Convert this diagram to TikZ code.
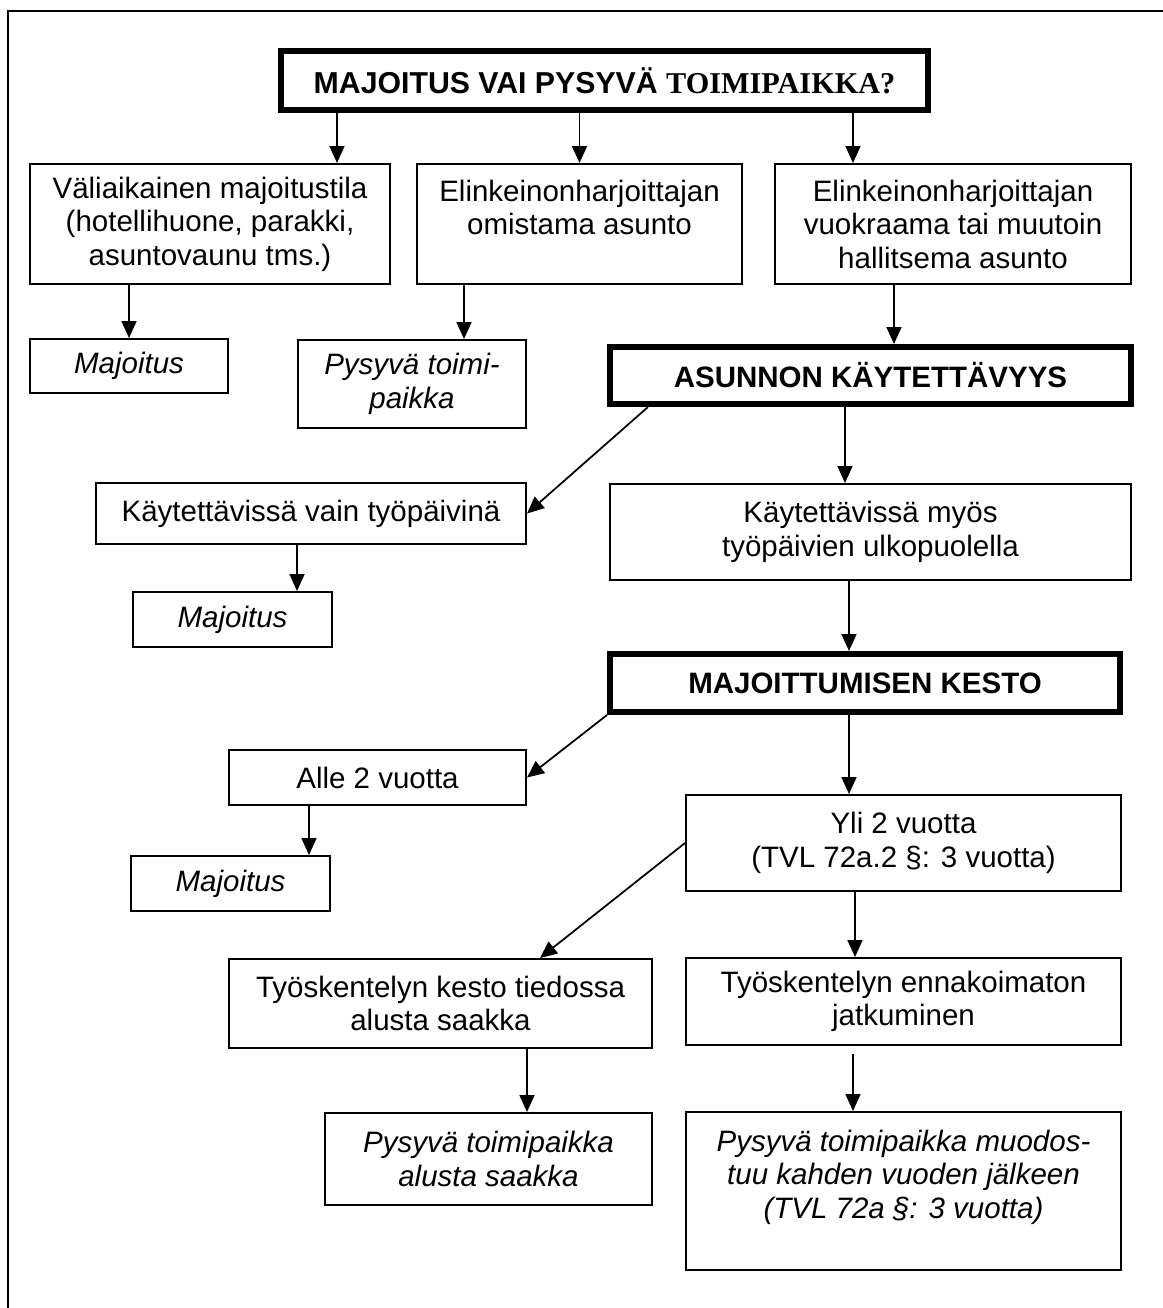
\documentclass[tikz,border=0pt]{standalone}
\usepackage{fontspec}
\setmainfont{Liberation Sans}
\newfontfamily\timesfont{Liberation Serif}
\usepackage{tikz}
\usetikzlibrary{arrows.meta}
\tikzset{
  box/.style={
    draw=black,fill=white,line width=.8pt,
    inner sep=2pt,align=center,
    font=\fontsize{11.8}{13.4}\selectfont
  },
  resultbox/.style={
    box,font=\fontsize{11.8}{13.4}\selectfont\itshape
  },
  headbox/.style={
    box,line width=2.4pt,font=\fontsize{11.8}{13.4}\selectfont\bfseries
  },
  frameline/.style={draw=black,line width=1.1pt},
  arrow/.style={-{Triangle[length=6.8pt,width=6pt]},draw=black,line width=.7pt}
}
\begin{document}
\begin{tikzpicture}[x=0.4pt,y=-0.4pt]
\useasboundingbox (0,0) rectangle (1163,1308);
\draw[frameline] (8,1308) -- (8,11) -- (1163,11);

\node[headbox,font=\fontsize{12.1}{13.8}\selectfont\bfseries,
  minimum width=258.8pt,minimum height=23.6pt] (title) at (604.5,80.5)
{MAJOITUS VAI PYSYVÄ {\timesfont TOIMIPAIKKA?}};

\node[box,minimum width=144pt,minimum height=48pt] (temp) at (210,224)
{Väliaikainen majoitustila\\(hotellihuone, parakki,\\asuntovaunu tms.)};
\node[box,minimum width=130pt,minimum height=48pt] (owned) at (579.5,224)
{Elinkeinonharjoittajan\\omistama asunto\\\mbox{}};
\node[box,minimum width=142.4pt,minimum height=48pt] (rented) at (953,224)
{Elinkeinonharjoittajan\\vuokraama tai muutoin\\hallitsema asunto};

\node[resultbox,minimum width=79.2pt,minimum height=21.6pt] (lodgeA) at (129,366)
{Majoitus};
\node[resultbox,minimum width=91.2pt,minimum height=35.2pt] (permA) at (412,384)
{Pysyvä toimi-\\paikka};
\node[headbox,minimum width=208.4pt,minimum height=22.8pt] (usage) at (870.5,375.5)
{ASUNNON KÄYTETTÄVYYS};

\node[box,minimum width=172pt,minimum height=24.4pt] (workdays) at (311,513.5)
{Käytettävissä vain työpäivinä};
\node[box,minimum width=208.4pt,minimum height=38.4pt] (alldays) at (870.5,532)
{Käytettävissä myös\\työpäivien ulkopuolella};
\node[resultbox,minimum width=79.6pt,minimum height=22pt] (lodgeB) at (232.5,619.5)
{Majoitus};

\node[headbox,minimum width=204pt,minimum height=23.2pt] (duration) at (865,683)
{MAJOITTUMISEN KESTO};
\node[box,minimum width=118.8pt,minimum height=22pt] (under) at (377.5,777.5)
{Alle 2 vuotta};
\node[box,minimum width=174pt,minimum height=38.4pt] (over) at (903.5,843)
{Yli 2 vuotta\\(TVL 72a.2 §: 3 vuotta)};
\node[resultbox,minimum width=79.6pt,minimum height=22pt] (lodgeC) at (230.5,883.5)
{Majoitus};

\node[box,minimum width=169.2pt,minimum height=35.6pt] (known) at (440.5,1003.5)
{Työskentelyn kesto tiedossa\\alusta saakka};
\node[box,minimum width=174pt,minimum height=34.8pt] (unforeseen) at (903.5,1001.5)
{Työskentelyn ennakoimaton\\jatkuminen};
\node[resultbox,minimum width=130.8pt,minimum height=36.8pt] (permB) at (488.5,1159)
{Pysyvä toimipaikka\\alusta saakka};
\node[resultbox,minimum width=174pt,minimum height=63.2pt] (permC) at (903.5,1191)
{Pysyvä toimipaikka muodos-\\tuu kahden vuoden jälkeen\\(TVL 72a §: 3 vuotta)\\\mbox{}};

\draw[arrow] ([xshift=50.8pt]temp.north |- title.south) -- ([xshift=50.8pt]temp.north);
\draw[arrow] (owned.north |- title.south) -- (owned.north);
\draw[arrow] ([xshift=-40pt]rented.north |- title.south) -- ([xshift=-40pt]rented.north);
\draw[arrow] (lodgeA.north |- temp.south) -- (lodgeA.north);
\draw[arrow] ([xshift=20.8pt]permA.north |- owned.south) -- ([xshift=20.8pt]permA.north);
\draw[arrow] ([xshift=9.4pt]usage.north |- rented.south) -- ([xshift=9.4pt]usage.north);
\draw[arrow] ([xshift=16.4pt]usage.south west) -- (workdays.east);
\draw[arrow] ([xshift=-10.2pt]alldays.north |- usage.south) -- ([xshift=-10.2pt]alldays.north);
\draw[arrow] ([xshift=25.8pt]lodgeB.north |- workdays.south) -- ([xshift=25.8pt]lodgeB.north);
\draw[arrow] ([xshift=-6.4pt]duration.north |- alldays.south) -- ([xshift=-6.4pt]duration.north);
\draw[arrow] (duration.south west) -- (under.east);
\draw[arrow] ([xshift=-21.8pt]over.north |- duration.south) -- ([xshift=-21.8pt]over.north);
\draw[arrow] ([xshift=31.4pt]lodgeC.north |- under.south) -- ([xshift=31.4pt]lodgeC.north);
\draw[arrow] (over.west) -- ([xshift=39.8pt]known.north);
\draw[arrow] ([xshift=-19.4pt]unforeseen.north |- over.south) -- ([xshift=-19.4pt]unforeseen.north);
\draw[arrow] ([xshift=15.4pt]permB.north |- known.south) -- ([xshift=15.4pt]permB.north);
\draw[arrow,shorten <=3pt] ([xshift=-20.2pt]permC.north |- unforeseen.south) -- ([xshift=-20.2pt]permC.north);
\end{tikzpicture}
\end{document}
